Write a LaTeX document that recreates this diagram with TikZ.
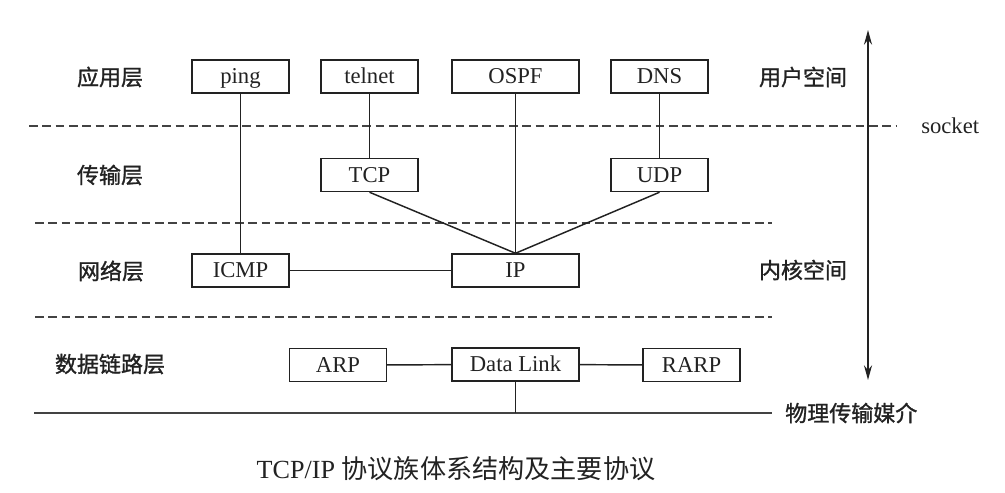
\documentclass[tikz,border=0pt]{standalone}
\usepackage{fontspec}
\setmainfont{Liberation Serif}
\newfontfamily\cjk{Noto Sans CJK SC}
\newfontfamily\cjkb[FakeBold=1.2]{Noto Sans CJK SC}
\usetikzlibrary{arrows.meta}
\definecolor{ink}{HTML}{222222}
\tikzset{
  proto/.style={draw=ink, line width=1.1pt, minimum height=24.75pt, inner sep=0pt,
    text=ink, font=\fontsize{17}{20}\selectfont, minimum width=72.75pt,
    text height=11.6pt, text depth=0.4pt},
  wide/.style={proto, minimum width=95.25pt},
  layer/.style={text=ink, font=\cjkb\fontsize{16.5}{20}\selectfont, inner sep=0pt},
  sep/.style={draw=ink!85, line width=1.1pt, dash pattern=on 6.5pt off 3.5pt},
  link/.style={draw=ink, line width=1.1pt},
}
\begin{document}
\begin{tikzpicture}[x=0.75pt, y=-0.75pt]
\useasboundingbox (0,0) rectangle (1005,492);
% dashed separators
\coordinate (s1a) at (29,126); \coordinate (s1b) at (897,126);
\coordinate (s2a) at (35,223); \coordinate (s2b) at (772,223);
\coordinate (s3a) at (35,317); \coordinate (s3b) at (772,317);
\draw[sep] (s1a) -- (s1b);
\draw[sep] (s2a) -- (s2b);
\draw[sep] (s3a) -- (s3b);
% layer labels
\node[layer] (l1) at (110,77) {应用层};
\node[layer] (l2) at (110,175) {传输层};
\node[layer] (l3) at (111,271) {网络层};
\node[layer] (l4) at (110,364) {数据链路层};
% protocols
\node[proto] (ping) at (240.5,76.5) {ping};
\node[proto] (telnet) at (369.5,76.5) {telnet};
\node[wide] (ospf) at (515.5,76.5) {OSPF};
\node[proto] (dns) at (659.5,76.5) {DNS};
\node[proto] (tcp) at (369.5,175) {TCP};
\node[proto] (udp) at (659.5,175) {UDP};
\node[proto] (icmp) at (240.5,270.5) {ICMP};
\node[wide] (ip) at (515.5,270.5) {IP};
\node[proto] (arp) at (338,365) {ARP};
\node[wide] (dl) at (515.5,364.5) {Data Link};
\node[proto] (rarp) at (691.5,365) {RARP};
% connectors
\draw[link] (ping) -- (icmp);
\draw[link] (telnet) -- (tcp);
\draw[link] (dns) -- (udp);
\draw[link] (ospf) -- (ip);
\draw[link] (tcp.south) -- (ip.north);
\draw[link] (udp.south) -- (ip.north);
\draw[link] (icmp) -- (ip);
\draw[link] (arp) -- (dl);
\draw[link] (dl) -- (rarp);
% physical medium
\coordinate (g1) at (34,413); \coordinate (g2) at (772,413);
\coordinate (gdl) at (515.5,413);
\draw[draw=ink!85, line width=1.5pt] (g1) -- (g2);
\draw[link] (dl.south) -- (gdl);
% user/kernel arrow
\coordinate (atop) at (868,30); \coordinate (abot) at (868,380);
\draw[draw=ink, line width=1.4pt, {Stealth[length=11pt,width=6pt]}-{Stealth[length=11pt,width=6pt]}] (atop) -- (abot);
% right-side labels
\node[layer] (us) at (803,77) {用户空间};
\node[layer] (ks) at (803,270) {内核空间};
\node[layer, anchor=west] (phy) at (785,413) {物理传输媒介};
\node[text=ink, font=\fontsize{17}{20}\selectfont, anchor=west, inner sep=0pt] (sock) at (921,126) {socket};
% caption
\node[text=ink, inner sep=0pt, font=\fontsize{19.6}{22}\selectfont] (cap) at (456,469) {TCP/IP {\cjk 协议族体系结构及主要协议}};
\end{tikzpicture}
\end{document}
